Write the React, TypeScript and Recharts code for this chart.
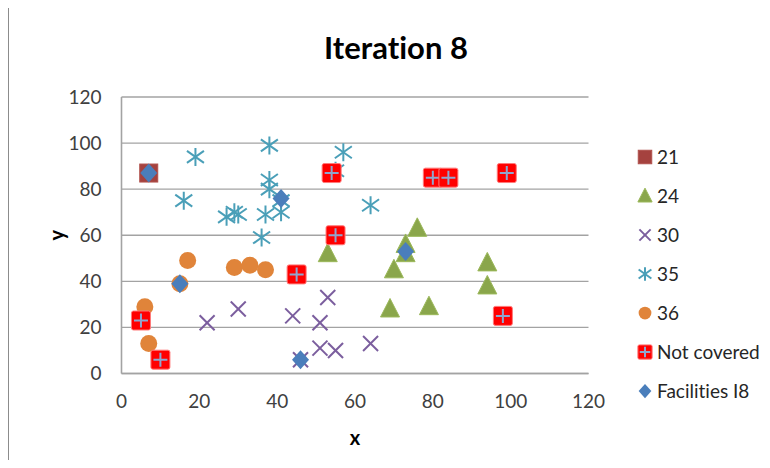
import React from 'react';
import { ScatterChart, Scatter, XAxis, YAxis, CartesianGrid, Label } from 'recharts';

const s21 = [{ x: 7, y: 87 }];
const s24 = [
  { x: 53, y: 52 }, { x: 76, y: 63 }, { x: 73, y: 56 }, { x: 73, y: 52 },
  { x: 70, y: 45 }, { x: 94, y: 48 }, { x: 94, y: 38 }, { x: 69, y: 28 }, { x: 79, y: 29 },
];
const s30 = [
  { x: 22, y: 22 }, { x: 30, y: 28 }, { x: 44, y: 25 }, { x: 51, y: 22 }, { x: 53, y: 33 },
  { x: 51, y: 11 }, { x: 55, y: 10 }, { x: 64, y: 13 }, { x: 46, y: 6 },
];
const s35 = [
  { x: 19, y: 94 }, { x: 38, y: 99 }, { x: 57, y: 96 }, { x: 55, y: 88 }, { x: 16, y: 75 },
  { x: 38, y: 84 }, { x: 38, y: 80 }, { x: 41, y: 75 }, { x: 41, y: 70 }, { x: 37, y: 69 },
  { x: 27, y: 68 }, { x: 29, y: 70 }, { x: 30, y: 69 }, { x: 36, y: 59 }, { x: 64, y: 73 },
];
const s36 = [
  { x: 17, y: 49 }, { x: 29, y: 46 }, { x: 33, y: 47 }, { x: 37, y: 45 }, { x: 15, y: 39 },
  { x: 6, y: 29 }, { x: 7, y: 13 },
];
const notCovered = [
  { x: 54, y: 87 }, { x: 55, y: 60 }, { x: 45, y: 43 }, { x: 5, y: 23 }, { x: 10, y: 6 },
  { x: 80, y: 85 }, { x: 84, y: 85 }, { x: 99, y: 87 }, { x: 98, y: 25 },
];
const facilities = [
  { x: 7, y: 87 }, { x: 41, y: 76 }, { x: 15, y: 39 }, { x: 46, y: 6 }, { x: 73, y: 53 },
];

const axisTicks = [0, 20, 40, 60, 80, 100, 120];
const legendNames = ['21', '24', '30', '35', '36', 'Not covered', 'Facilities I8'];
const titleText = 'Iteration 8';

const FONT = 'Lato, "Liberation Sans", sans-serif';
const GRID = '#a3a3a3';

type MP = { cx?: number; cy?: number; s?: number };

const Square21 = ({ cx = 0, cy = 0, s = 1 }: MP) => (
  <rect x={cx - 9 * s} y={cy - 9 * s} width={18 * s} height={18 * s} fill="#a5423f" stroke="#b0504c" strokeWidth={1} />
);
const Tri = ({ cx = 0, cy = 0, s = 1 }: MP) => (
  <polygon
    points={`${cx},${cy - 10.5 * s} ${cx - 9.5 * s},${cy + 8 * s} ${cx + 9.5 * s},${cy + 8 * s}`}
    fill="#8aa64b"
    stroke="#9bb85a"
    strokeWidth={1}
  />
);
const Cross = ({ cx = 0, cy = 0, s = 1 }: MP) => (
  <g stroke="#7b5e9e" strokeWidth={2}>
    <line x1={cx - 7.5 * s} y1={cy - 7.5 * s} x2={cx + 7.5 * s} y2={cy + 7.5 * s} />
    <line x1={cx - 7.5 * s} y1={cy + 7.5 * s} x2={cx + 7.5 * s} y2={cy - 7.5 * s} />
  </g>
);
const Star = ({ cx = 0, cy = 0, s = 1 }: MP) => (
  <g stroke="#4a9fb8" strokeWidth={2}>
    <line x1={cx} y1={cy - 9 * s} x2={cx} y2={cy + 9 * s} />
    <line x1={cx - 8.5 * s} y1={cy - 6 * s} x2={cx + 8.5 * s} y2={cy + 6 * s} />
    <line x1={cx - 8.5 * s} y1={cy + 6 * s} x2={cx + 8.5 * s} y2={cy - 6 * s} />
  </g>
);
const Dot = ({ cx = 0, cy = 0, s = 1 }: MP) => <circle cx={cx} cy={cy} r={8.5 * s} fill="#e0843a" />;
const RedSq = ({ cx = 0, cy = 0, s = 1 }: MP) => (
  <g>
    <rect x={cx - 9.5 * s} y={cy - 9.5 * s} width={19 * s} height={19 * s} rx={2 * s} fill="#ff0000" stroke="#ff7a7a" strokeWidth={1} />
    <g stroke="#8fa6cf" strokeWidth={2}>
      <line x1={cx - 7 * s} y1={cy} x2={cx + 7 * s} y2={cy} />
      <line x1={cx} y1={cy - 7 * s} x2={cx} y2={cy + 7 * s} />
    </g>
  </g>
);
const Diamond = ({ cx = 0, cy = 0, s = 1 }: MP) => (
  <polygon
    points={`${cx},${cy - 9.5 * s} ${cx + 8.5 * s},${cy} ${cx},${cy + 9.5 * s} ${cx - 8.5 * s},${cy}`}
    fill="#4a7ebb"
  />
);

const markers = [Square21, Tri, Cross, Star, Dot, RedSq, Diamond];

const YLabel = (props: any) => {
  const vb = props.viewBox || {};
  const x = vb.x + vb.width - 66;
  const y = vb.y + vb.height / 2;
  return (
    <text x={x} y={y} transform={`rotate(-90 ${x} ${y})`} textAnchor="middle" dominantBaseline="central"
      fontFamily={FONT} fontWeight="bold" fontSize={20} fill="#000">y</text>
  );
};
const XLabel = (props: any) => {
  const vb = props.viewBox || {};
  const x = vb.x + vb.width / 2;
  const y = vb.y + 63;
  return (
    <text x={x} y={y} textAnchor="middle" dominantBaseline="central"
      fontFamily={FONT} fontWeight="bold" fontSize={20} fill="#000">x</text>
  );
};

export default function App() {
  const tickStyle = { fontFamily: FONT, fontSize: 19, fill: '#404040' };
  return (
    <div style={{ position: 'relative', width: 762, height: 460, marginBottom: -8, fontFamily: FONT, fontVariantLigatures: 'none' }}>
      <div style={{ position: 'absolute', left: 0, top: -2, width: 762, height: 462, borderLeft: '1.5px solid #8c8c8c', borderTop: '1.5px solid #8c8c8c', boxSizing: 'border-box' }} />
      <div style={{ position: 'absolute', left: 238, top: 20, width: 300, textAlign: 'center', fontSize: 31, fontWeight: 'bold', lineHeight: '38px', color: '#000', fontVariantLigatures: 'none' }}>
        {titleText}
      </div>
      <ScatterChart width={762} height={460} margin={{ top: 89, right: 181.5, bottom: 64.5, left: 53.5 }}>
        <CartesianGrid vertical={false} stroke={GRID} strokeWidth={1.4} />
        <XAxis type="number" dataKey="x" domain={[0, 120]} ticks={axisTicks} height={30}
          tickLine={false} tickSize={0} tickMargin={21} axisLine={{ stroke: GRID, strokeWidth: 1.6 }} tick={tickStyle} allowDataOverflow>
          <Label content={<XLabel />} />
        </XAxis>
        <YAxis type="number" dataKey="y" domain={[0, 120]} ticks={axisTicks} width={60}
          tickLine={false} tickSize={0} tickMargin={20} axisLine={{ stroke: GRID, strokeWidth: 1.6 }} tick={tickStyle} allowDataOverflow>
          <Label content={<YLabel />} />
        </YAxis>
        <Scatter name={legendNames[0]} data={s21} shape={(p: any) => <Square21 cx={p.cx} cy={p.cy} />} isAnimationActive={false} />
        <Scatter name={legendNames[1]} data={s24} shape={(p: any) => <Tri cx={p.cx} cy={p.cy} />} isAnimationActive={false} />
        <Scatter name={legendNames[2]} data={s30} shape={(p: any) => <Cross cx={p.cx} cy={p.cy} />} isAnimationActive={false} />
        <Scatter name={legendNames[3]} data={s35} shape={(p: any) => <Star cx={p.cx} cy={p.cy} />} isAnimationActive={false} />
        <Scatter name={legendNames[4]} data={s36} shape={(p: any) => <Dot cx={p.cx} cy={p.cy} />} isAnimationActive={false} />
        <Scatter name={legendNames[5]} data={notCovered} shape={(p: any) => <RedSq cx={p.cx} cy={p.cy} />} isAnimationActive={false} />
        <Scatter name={legendNames[6]} data={facilities} shape={(p: any) => <Diamond cx={p.cx} cy={p.cy} />} isAnimationActive={false} />
      </ScatterChart>
      {legendNames.map((name, i) => {
        const M = markers[i];
        const cy = 148.7 + i * 39.1;
        return (
          <div key={name} style={{ position: 'absolute', left: 628, top: cy - 10, height: 20, display: 'flex', alignItems: 'center', whiteSpace: 'nowrap' }}>
            <svg width={18} height={20} style={{ display: 'block' }}>
              <M cx={9} cy={10} s={0.75} />
            </svg>
            <span style={{ marginLeft: 3, fontSize: 19, color: '#262626', lineHeight: '20px' }}>{name}</span>
          </div>
        );
      })}
    </div>
  );
}
